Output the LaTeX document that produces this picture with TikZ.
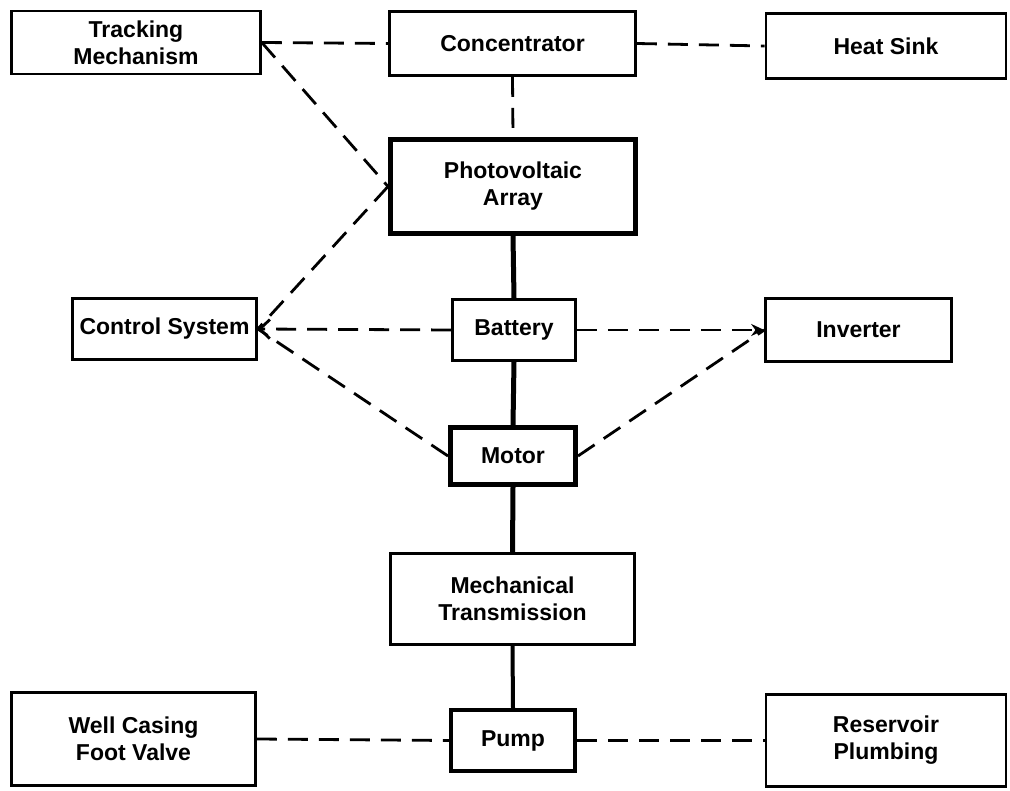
\documentclass[tikz,border=0pt]{standalone}
\usepackage{fontspec}
\setmainfont{Liberation Sans}
\usetikzlibrary{arrows.meta}
\begin{document}
\begin{tikzpicture}[x=1pt,y=-1pt,
  box/.style={draw, line width=2.6pt, inner sep=0pt, align=center,
    font=\fontsize{23}{27}\selectfont\bfseries},
  heavybox/.style={box, line width=5pt},
  dline/.style={line width=2.8pt, dash pattern=on 20pt off 11pt},
  sline/.style={line width=5pt}]
\useasboundingbox (0,0) rectangle (1010,791);
% nodes
\node[box, minimum width=249pt, minimum height=63pt] (track) at (136,42.5) {Tracking\\Mechanism};
\node[box, minimum width=246pt, minimum height=64pt] (conc) at (512.5,43.5) {Concentrator};
\node[box, minimum width=240pt, minimum height=65pt] (heat) at (886,46) {Heat Sink};
\node[heavybox, minimum width=245pt, minimum height=94pt] (pv) at (513,186.5) {Photovoltaic\\Array};
\node[box, minimum width=184pt, minimum height=61pt] (ctrl) at (164.5,329) {Control System};
\node[box, minimum width=123pt, minimum height=61pt] (batt) at (514,330) {Battery};
\node[box, minimum width=186pt, minimum height=63pt] (inv) at (858.5,330) {Inverter};
\node[heavybox, minimum width=125pt, minimum height=57pt] (motor) at (513,456) {Motor};
\node[box, minimum width=244pt, minimum height=91pt] (mech) at (512.5,599) {Mechanical\\Transmission};
\node[box, minimum width=244pt, minimum height=93pt] (well) at (133.5,739) {Well Casing\\Foot Valve};
\node[heavybox, line width=4pt, minimum width=124pt, minimum height=61pt] (pump) at (513,740.5) {Pump};
\node[box, minimum width=240pt, minimum height=92pt] (res) at (886,740.5) {Reservoir\\Plumbing};
% dashed connectors
\draw[dline] (track.east) -- (conc.west);
\draw[dline] (conc.east) -- (heat.west);
\draw[dline] (conc.south) -- (pv.north);
\draw[dline] (track.east) -- (pv.west);
\draw[dline] (pv.west) -- (ctrl.east);
\draw[dline, -{Straight Barb[length=10pt,width=19pt]}] (batt.west) -- (ctrl.east);
\draw[dline] (motor.west) -- (ctrl.east);
\draw[dline, -{Stealth[length=13pt,width=12pt]}] (batt.east) -- (inv.west);
\draw[dline] (motor.east) -- (inv.west);
\draw[dline] (well.east) -- (pump.west);
\draw[dline] (pump.east) -- (res.west);
% solid connectors
\draw[sline] (pv.south) -- (batt.north);
\draw[sline] (batt.south) -- (motor.north);
\draw[sline] (motor.south) -- (mech.north);
\draw[sline, line width=4pt] (mech.south) -- (pump.north);
\end{tikzpicture}
\end{document}
